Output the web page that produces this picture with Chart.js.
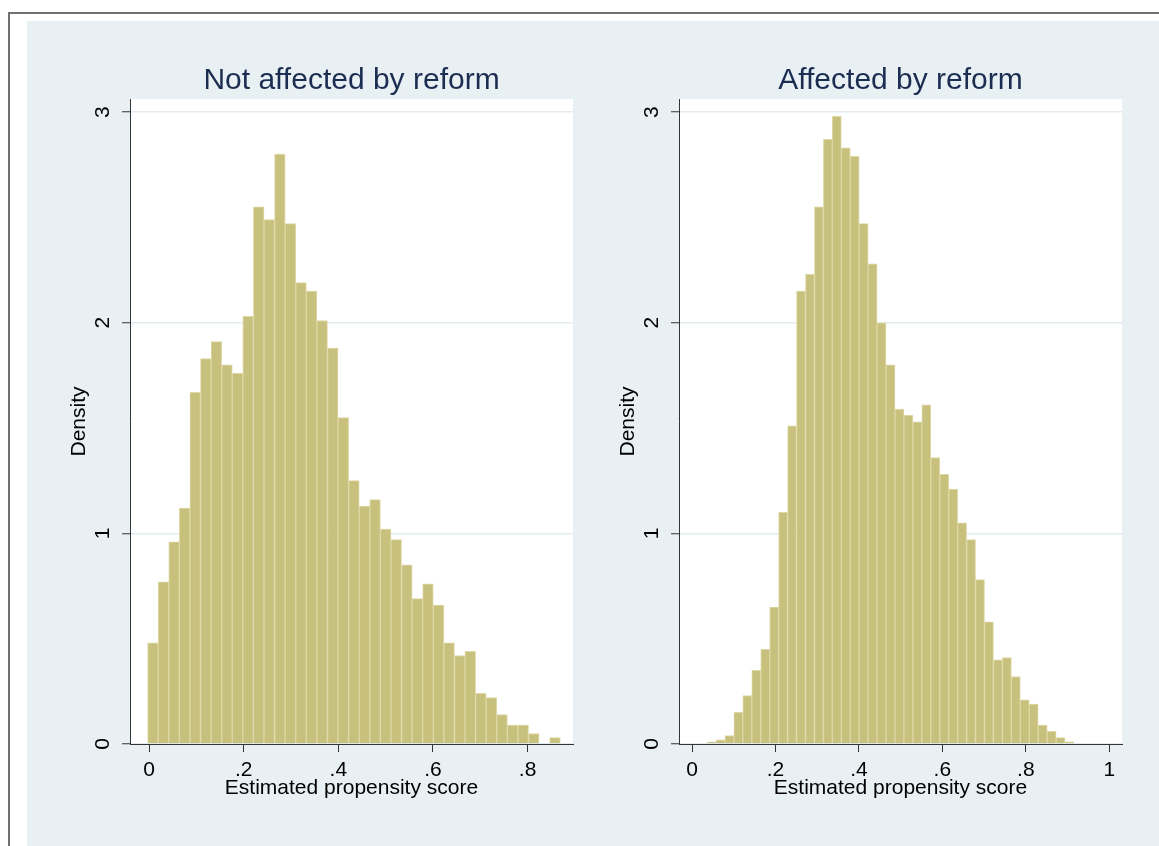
<!DOCTYPE html>
<html>
<head>
<meta charset="utf-8">
<script src="https://cdn.jsdelivr.net/npm/chart.js@4.4.1/dist/chart.umd.min.js"></script>
<style>
  html, body { margin: 0; padding: 0; background: #fff; overflow: hidden; }
  body { width: 1159px; height: 846px; position: relative; }
  #frame { position: absolute; left: 8px; top: 12px; width: 1180px; height: 860px;
           border-top: 2px solid #707070; border-left: 2px solid #707070; }
  #panel { position: absolute; left: 27px; top: 21px; width: 1132px; height: 825px; background: #e9f0f3; }
  canvas { position: absolute; top: 21px; }
  #left { left: 27px; }
  #right { left: 576px; }
</style>
</head>
<body>
<div id="frame"></div>
<div id="panel"></div>
<canvas id="left" width="549" height="825"></canvas>
<canvas id="right" width="583" height="825"></canvas>
<script>
// histogram bins (start + width, as in Stata's histogram)
var leftBinStart = -0.003;
var leftBinWidth = 0.02236;
var leftDensity = [0.48, 0.77, 0.96, 1.12, 1.67, 1.83, 1.91, 1.80, 1.76, 2.03,
                   2.55, 2.49, 2.80, 2.47, 2.19, 2.15, 2.01, 1.88, 1.55, 1.25,
                   1.13, 1.16, 1.02, 0.97, 0.85, 0.69, 0.76, 0.66, 0.48, 0.42,
                   0.44, 0.24, 0.22, 0.14, 0.09, 0.09, 0.05, 0, 0.03];

var rightBinStart = 0.036;
var rightBinWidth = 0.02145;
var rightDensity = [0.01, 0.02, 0.04, 0.15, 0.23, 0.35, 0.45, 0.65, 1.10, 1.51,
                    2.15, 2.23, 2.55, 2.87, 2.98, 2.83, 2.79, 2.47, 2.28, 2.00,
                    1.80, 1.59, 1.56, 1.53, 1.61, 1.36, 1.28, 1.21, 1.05, 0.97,
                    0.78, 0.58, 0.40, 0.41, 0.32, 0.21, 0.19, 0.09, 0.06, 0.03, 0.01];

var yTicks = [0, 1, 2, 3];
var leftXTicks = [0, 0.2, 0.4, 0.6, 0.8];
var rightXTicks = [0, 0.2, 0.4, 0.6, 0.8, 1];

var fontFam = "'Liberation Sans', Arial, sans-serif";
Chart.defaults.font.family = fontFam;

// bin centres -> points for the bar dataset
function toPoints(start, width, vals) {
    var pts = [];
    for (var i = 0; i < vals.length; i++) {
        pts.push({ x: start + width * (i + 0.5), y: vals[i] });
    }
    return pts;
}

// Stata style labels: .2 .4 ...
function fmt(v) {
    if (v === 0 || v === 1) return String(v);
    return String(v).replace(/^0/, '');
}

// white plot region
var plotBg = {
    id: 'plotBg',
    beforeDraw: function(chart) {
        var a = chart.chartArea, c = chart.ctx;
        c.save();
        c.fillStyle = '#ffffff';
        c.fillRect(a.left, a.top, a.right - a.left, a.bottom - a.top);
        c.restore();
    }
};

function makeChart(id, title, pts, xMin, xMax, xTicks, padRight) {
    var ctx = document.getElementById(id).getContext('2d');
    return new Chart(ctx, {
        type: 'bar',
        data: {
            datasets: [{
                data: pts,
                backgroundColor: 'rgb(200, 193, 126)',
                borderColor: 'rgb(222, 216, 166)',
                borderWidth: 1,
                barPercentage: 1,
                categoryPercentage: 1
            }]
        },
        plugins: [plotBg],
        options: {
            responsive: false,
            animation: false,
            devicePixelRatio: 1,
            layout: { padding: { left: 0, right: padRight, top: 0, bottom: 0 } },
            plugins: {
                legend: { display: false },
                tooltip: { enabled: false },
                title: {
                    display: true,
                    text: title,
                    fullSize: false,
                    color: '#1c2d52',
                    font: { size: 30, weight: 'normal', lineHeight: 1 },
                    padding: { top: 45, bottom: 3 }
                }
            },
            scales: {
                x: {
                    type: 'linear',
                    min: xMin,
                    max: xMax,
                    offset: false,
                    afterBuildTicks: function(s) {
                        s.ticks = xTicks.map(function(v) { return { value: v }; });
                    },
                    afterFit: function(s) { s.height = 102; },
                    ticks: {
                        minRotation: 0, maxRotation: 0, padding: 6,
                        color: '#000', font: { size: 21 },
                        callback: function(v) { return fmt(v); }
                    },
                    grid: {
                        drawOnChartArea: false, offset: false,
                        tickLength: 8, tickColor: '#333', color: '#333'
                    },
                    border: { display: true, color: '#333', width: 1 },
                    title: {
                        display: true, text: 'Estimated propensity score',
                        color: '#000', font: { size: 21 },
                        padding: { top: 0, bottom: 45 }
                    }
                },
                y: {
                    type: 'linear',
                    min: 0,
                    max: 3.062,
                    afterBuildTicks: function(s) {
                        s.ticks = yTicks.map(function(v) { return { value: v }; });
                    },
                    afterFit: function(s) { s.width = 103; },
                    ticks: {
                        minRotation: 90, maxRotation: 90, crossAlign: 'center',
                        padding: 13, color: '#000', font: { size: 21 }
                    },
                    grid: {
                        color: '#e2ebf0', lineWidth: 1.5,
                        tickLength: 8, tickColor: '#333', tickWidth: 1
                    },
                    border: { display: true, color: '#333', width: 1 },
                    title: {
                        display: true, text: 'Density',
                        color: '#000', font: { size: 21 },
                        padding: { top: 40, bottom: 0 }
                    }
                }
            }
        }
    });
}

makeChart('left', 'Not affected by reform',
          toPoints(leftBinStart, leftBinWidth, leftDensity),
          -0.0402, 0.896, leftXTicks, 3);
makeChart('right', 'Affected by reform',
          toPoints(rightBinStart, rightBinWidth, rightDensity),
          -0.0312, 1.0305, rightXTicks, 37);
</script>
</body>
</html>
